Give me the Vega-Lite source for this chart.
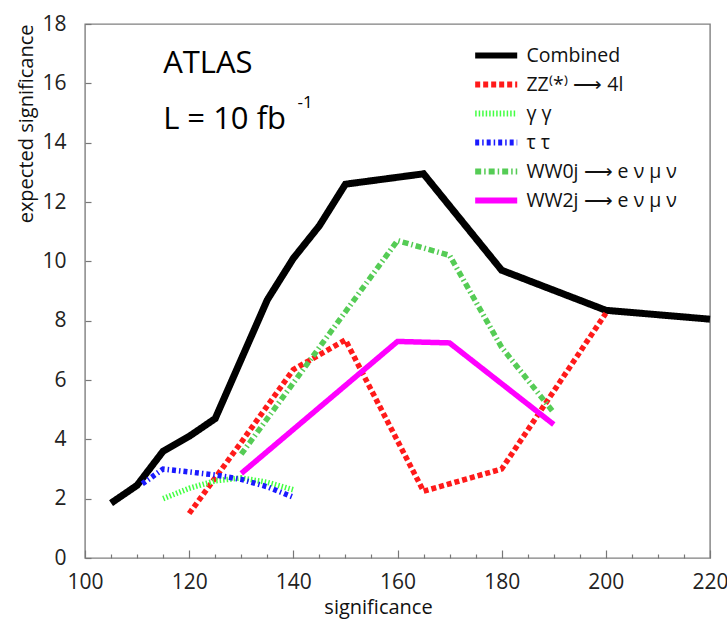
{
  "$schema": "https://vega.github.io/schema/vega-lite/v6.json",
  "width": 625,
  "height": 534,
  "padding": {"left": 15, "top": 13, "right": 0, "bottom": 5},
  "config": {
    "view": {"stroke": "#808080", "strokeWidth": 1.4},
    "font": "Open Sans",
    "axis": {
      "grid": false,
      "domain": false,
      "tickColor": "#777777",
      "tickWidth": 1.2,
      "labelFont": "Open Sans",
      "labelFontSize": 21,
      "labelColor": "#222222",
      "titleFont": "Open Sans",
      "titleFontSize": 20,
      "titleFontWeight": "normal",
      "titleColor": "#111111"
    }
  },
  "datasets": {
    "curves": [
      {"series": "Combined", "x": 105, "y": 1.85},
      {"series": "Combined", "x": 110, "y": 2.45},
      {"series": "Combined", "x": 115, "y": 3.6},
      {"series": "Combined", "x": 120, "y": 4.1},
      {"series": "Combined", "x": 125, "y": 4.7},
      {"series": "Combined", "x": 130, "y": 6.7},
      {"series": "Combined", "x": 135, "y": 8.7},
      {"series": "Combined", "x": 140, "y": 10.1},
      {"series": "Combined", "x": 145, "y": 11.2},
      {"series": "Combined", "x": 150, "y": 12.6},
      {"series": "Combined", "x": 165, "y": 12.95},
      {"series": "Combined", "x": 180, "y": 9.7},
      {"series": "Combined", "x": 200, "y": 8.35},
      {"series": "Combined", "x": 220, "y": 8.05},
      {"series": "ZZ⁽*⁾ ⟶  4l", "x": 120, "y": 1.5},
      {"series": "ZZ⁽*⁾ ⟶  4l", "x": 130, "y": 3.9},
      {"series": "ZZ⁽*⁾ ⟶  4l", "x": 140, "y": 6.35},
      {"series": "ZZ⁽*⁾ ⟶  4l", "x": 150, "y": 7.35},
      {"series": "ZZ⁽*⁾ ⟶  4l", "x": 165, "y": 2.25},
      {"series": "ZZ⁽*⁾ ⟶  4l", "x": 180, "y": 3.0},
      {"series": "ZZ⁽*⁾ ⟶  4l", "x": 200, "y": 8.25},
      {"series": "γ γ", "x": 115, "y": 2.0},
      {"series": "γ γ", "x": 120, "y": 2.35},
      {"series": "γ γ", "x": 125, "y": 2.6},
      {"series": "γ γ", "x": 130, "y": 2.7},
      {"series": "γ γ", "x": 135, "y": 2.55},
      {"series": "γ γ", "x": 140, "y": 2.3},
      {"series": "τ τ", "x": 111, "y": 2.5},
      {"series": "τ τ", "x": 115, "y": 3.0},
      {"series": "τ τ", "x": 120, "y": 2.9},
      {"series": "τ τ", "x": 125, "y": 2.8},
      {"series": "τ τ", "x": 130, "y": 2.65},
      {"series": "τ τ", "x": 135, "y": 2.4},
      {"series": "τ τ", "x": 140, "y": 2.05},
      {"series": "WW0j ⟶ e ν μ ν", "x": 130, "y": 3.5},
      {"series": "WW0j ⟶ e ν μ ν", "x": 140, "y": 5.9},
      {"series": "WW0j ⟶ e ν μ ν", "x": 150, "y": 8.3},
      {"series": "WW0j ⟶ e ν μ ν", "x": 160, "y": 10.7},
      {"series": "WW0j ⟶ e ν μ ν", "x": 170, "y": 10.2},
      {"series": "WW0j ⟶ e ν μ ν", "x": 180, "y": 7.1},
      {"series": "WW0j ⟶ e ν μ ν", "x": 190, "y": 4.9},
      {"series": "WW2j ⟶ e ν μ ν", "x": 130, "y": 2.85},
      {"series": "WW2j ⟶ e ν μ ν", "x": 160, "y": 7.3},
      {"series": "WW2j ⟶ e ν μ ν", "x": 170, "y": 7.25},
      {"series": "WW2j ⟶ e ν μ ν", "x": 190, "y": 4.5}
    ]
  },
  "layer": [
    {
      "data": {"name": "curves"},
      "transform": [{"filter": "datum.series === 'Combined'"}],
      "mark": {"type": "line", "strokeWidth": 7, "strokeCap": "butt", "strokeJoin": "miter"},
      "encoding": {
        "x": {
          "field": "x", "type": "quantitative",
          "scale": {"domain": [100, 220], "nice": false, "zero": false},
          "axis": {"values": [100, 120, 140, 160, 180, 200, 220], "tickSize": -8, "labelPadding": 21, "title": "significance", "titlePadding": 5, "titleX": 293, "titleAnchor": null, "labelFlush": false}
        },
        "y": {
          "field": "y", "type": "quantitative",
          "scale": {"domain": [0, 18], "nice": false},
          "axis": {"values": [0, 2, 4, 6, 8, 10, 12, 14, 16, 18], "tickSize": -6, "labelPadding": 25, "title": "expected significance", "titleX": -59, "titleY": 0, "titleAlign": "right", "titleBaseline": "middle", "titleAngle": -90}
        },
        "color": {
          "field": "series", "type": "nominal",
          "scale": {
            "domain": ["Combined", "ZZ⁽*⁾ ⟶  4l", "γ γ", "τ τ", "WW0j ⟶ e ν μ ν", "WW2j ⟶ e ν μ ν"],
            "range": ["#000000", "#ff1a1a", "#44ff44", "#1a1aff", "#55cc55", "#ff00ff"]
          },
          "legend": {"orient": "none", "legendX": 394.7, "legendY": 15, "title": null, "symbolType": "M-1.58,0H1.58", "symbolSize": 708, "symbolStrokeWidth": 6, "labelFontSize": 19.5, "labelFont": "Open Sans", "labelColor": "#111111", "rowPadding": 0, "labelOffset": 13.7, "padding": 0}
        },
        "strokeDash": {
          "field": "series", "type": "nominal",
          "scale": {
            "domain": ["Combined", "ZZ⁽*⁾ ⟶  4l", "γ γ", "τ τ", "WW0j ⟶ e ν μ ν", "WW2j ⟶ e ν μ ν"],
            "range": [[1, 0], [5, 3], [1.5, 2], [4, 3, 1.5, 3], [6, 3, 1.5, 3], [1, 0]]
          },
          "legend": {"orient": "none", "legendX": 394.7, "legendY": 15, "title": null, "symbolType": "M-1.58,0H1.58", "symbolSize": 708, "symbolStrokeWidth": 6, "labelFontSize": 19.5, "labelFont": "Open Sans", "labelColor": "#111111", "rowPadding": 0, "labelOffset": 13.7, "padding": 0}
        }
      }
    },
    {
      "data": {"name": "curves"},
      "transform": [{"filter": "datum.series !== 'Combined'"}],
      "mark": {"type": "line", "strokeWidth": 5.5, "strokeCap": "butt", "strokeJoin": "miter"},
      "encoding": {
        "x": {"field": "x", "type": "quantitative", "axis": null},
        "y": {"field": "y", "type": "quantitative"},
        "color": {"field": "series", "type": "nominal"},
        "strokeDash": {"field": "series", "type": "nominal"}
      }
    },
    {
      "data": {"values": [{}]},
      "mark": {"type": "text", "align": "left", "baseline": "middle", "fontSize": 31, "font": "Open Sans", "color": "#000000"},
      "encoding": {
        "x": {"datum": 115, "type": "quantitative", "axis": {"values": [105, 110, 115, 125, 130, 135, 145, 150, 155, 165, 170, 175, 185, 190, 195, 205, 210, 215], "tickSize": -4, "labels": false, "title": null, "orient": "bottom"}},
        "y": {"datum": 16.64, "type": "quantitative"},
        "text": {"value": "ATLAS"}
      }
    },
    {
      "data": {"values": [{}]},
      "mark": {"type": "text", "align": "left", "baseline": "middle", "fontSize": 31, "font": "Open Sans", "color": "#000000"},
      "encoding": {
        "x": {"datum": 115, "type": "quantitative", "axis": null},
        "y": {"datum": 14.76, "type": "quantitative"},
        "text": {"value": "L = 10 fb"}
      }
    },
    {
      "data": {"values": [{}]},
      "mark": {"type": "text", "align": "left", "baseline": "middle", "fontSize": 17, "font": "Open Sans", "color": "#000000"},
      "encoding": {
        "x": {"datum": 140.8, "type": "quantitative", "axis": null},
        "y": {"datum": 15.35, "type": "quantitative"},
        "text": {"value": "-1"}
      }
    }
  ],
  "resolve": {"axis": {"x": "independent"}}
}
